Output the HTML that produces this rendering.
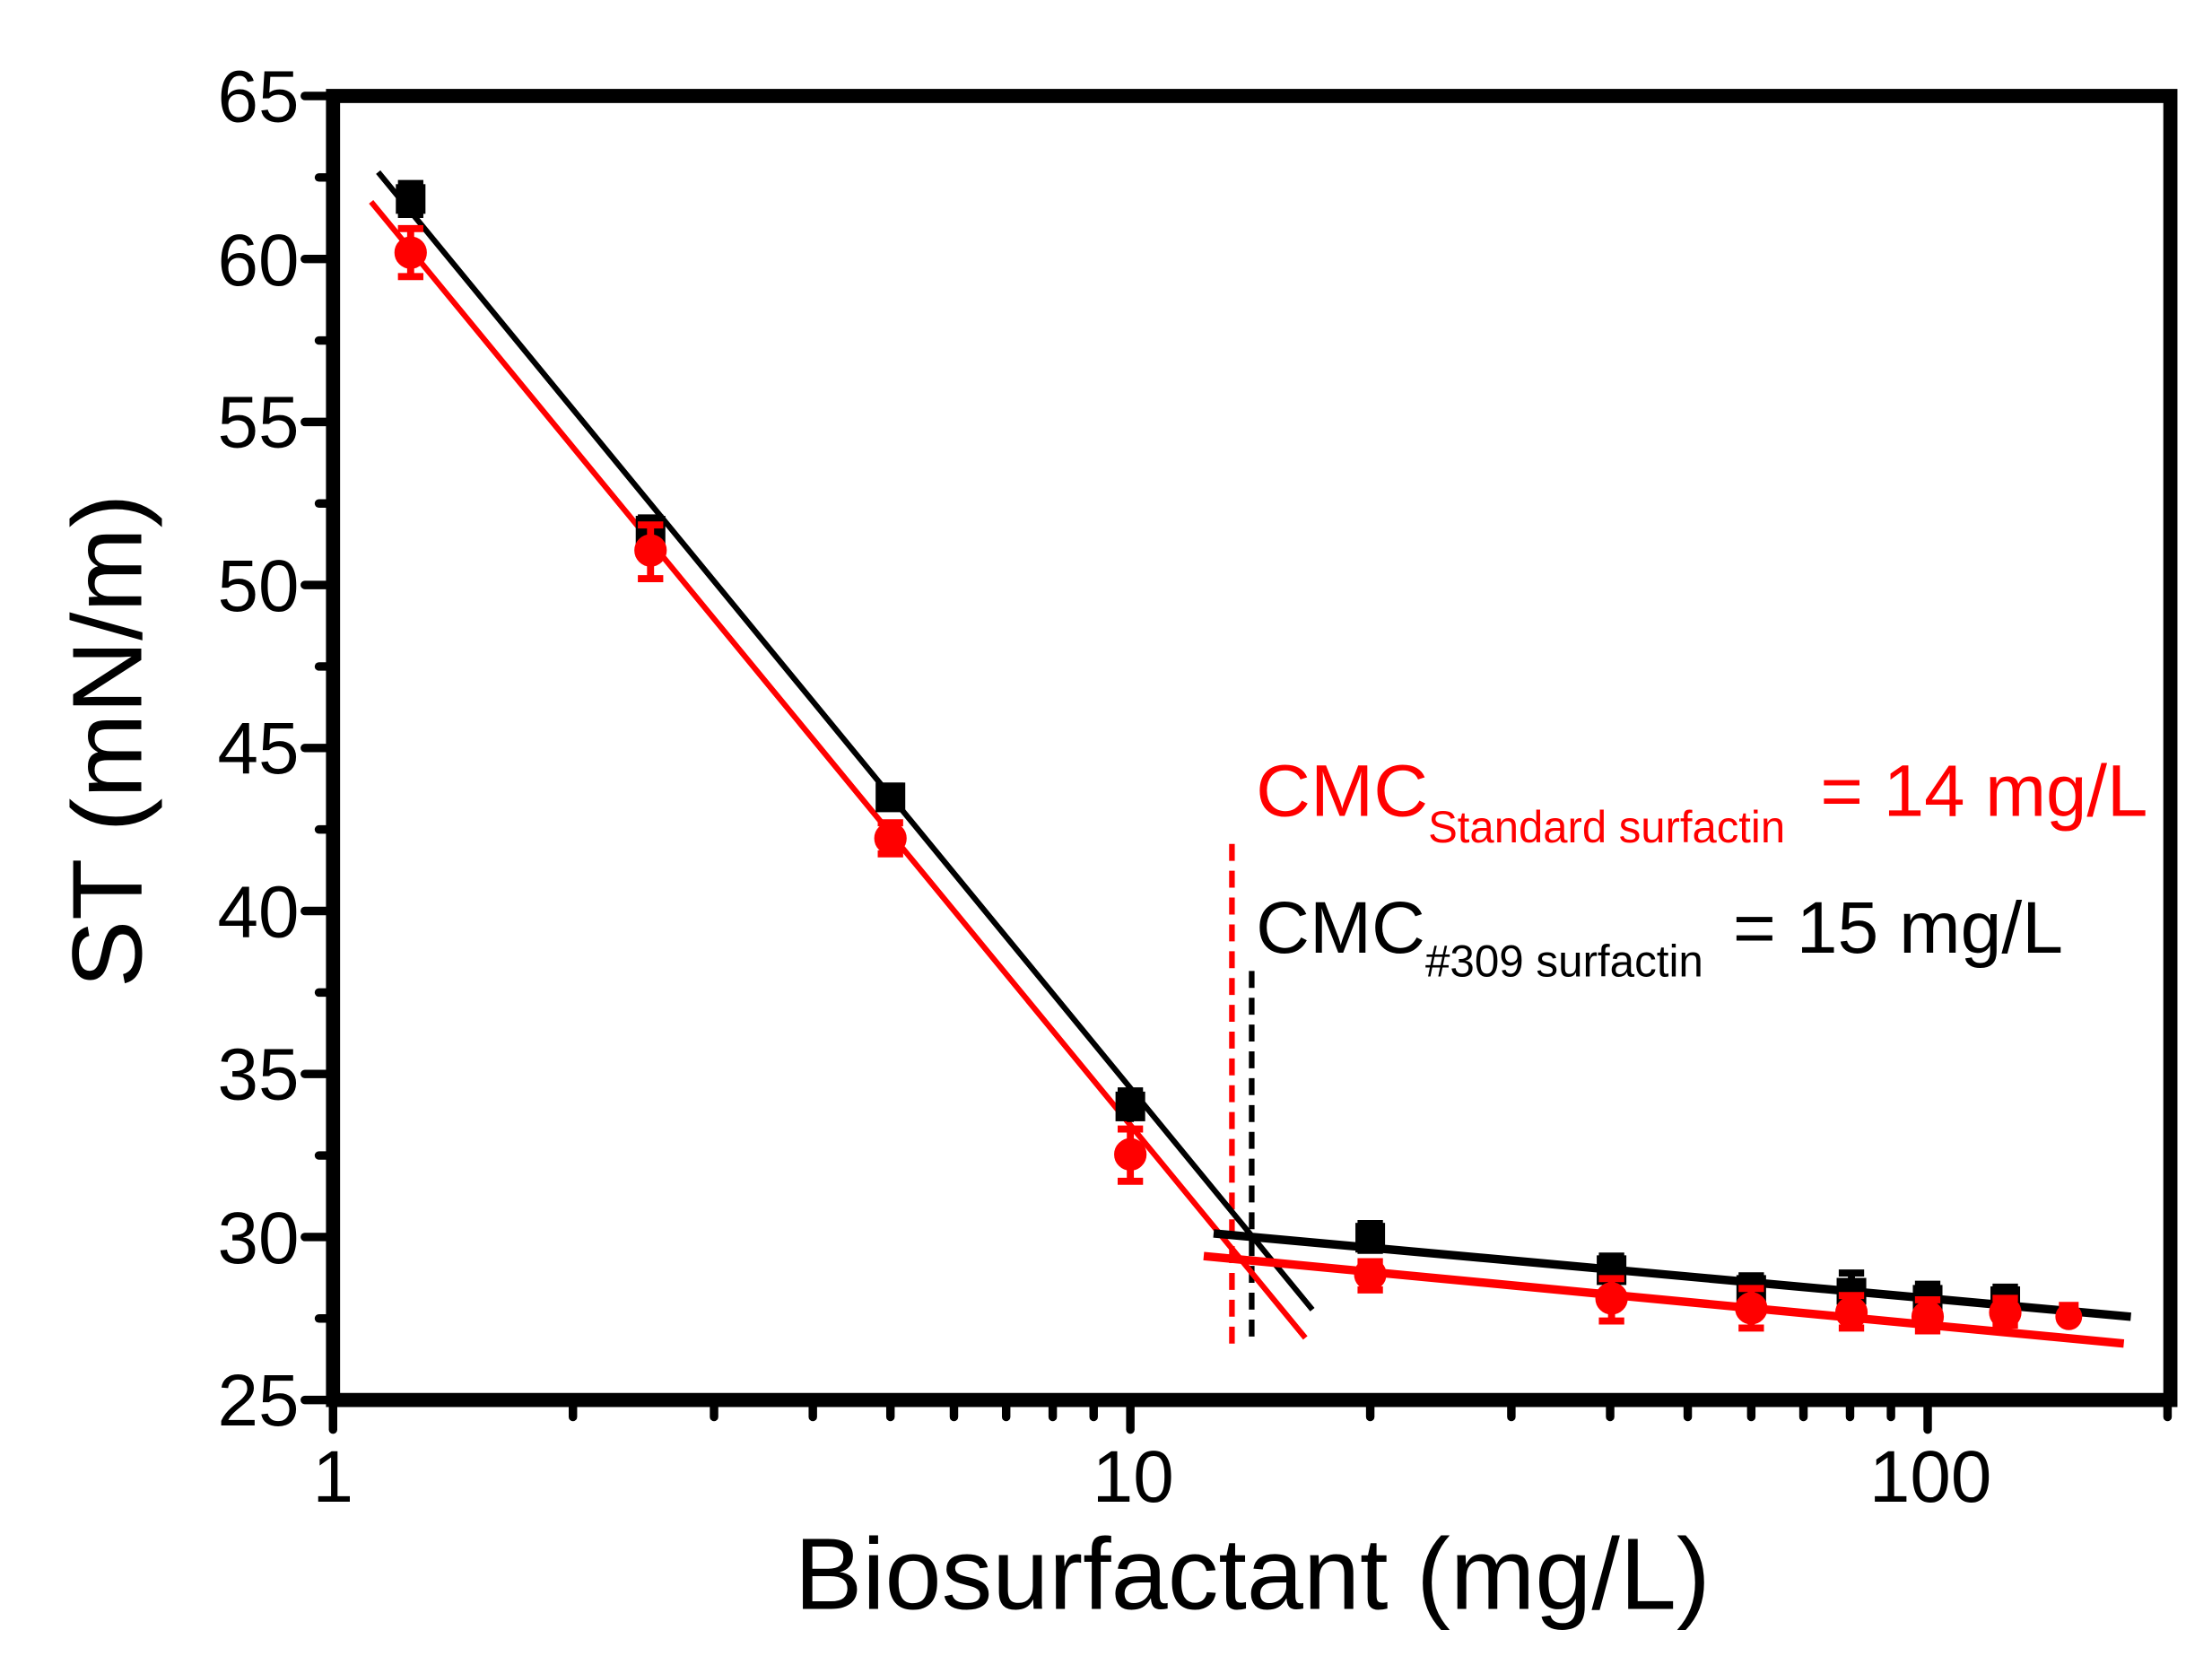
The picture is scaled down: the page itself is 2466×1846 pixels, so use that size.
<!DOCTYPE html>
<html><head><meta charset="utf-8"><style>html,body{margin:0;padding:0;background:#fff}svg{display:block}</style></head>
<body>
<svg width="2466" height="1846" viewBox="0 0 1567.5 1173.4" xmlns="http://www.w3.org/2000/svg" font-family="Liberation Sans, Arial, sans-serif">
<rect width="1567.5" height="1173.4" fill="#fff"/>
<!-- axes -->
<rect x="236" y="68" width="1302" height="924" fill="none" stroke="#000" stroke-width="10"/>
<g stroke="#000" stroke-width="6" stroke-linecap="round">
<line x1="236" y1="68" x2="216" y2="68"/><line x1="236" y1="183.5" x2="216" y2="183.5"/><line x1="236" y1="299" x2="216" y2="299"/><line x1="236" y1="414.5" x2="216" y2="414.5"/><line x1="236" y1="530" x2="216" y2="530"/><line x1="236" y1="645.5" x2="216" y2="645.5"/><line x1="236" y1="761" x2="216" y2="761"/><line x1="236" y1="876.5" x2="216" y2="876.5"/><line x1="236" y1="992" x2="216" y2="992"/>
<line x1="236" y1="125.75" x2="226" y2="125.75"/><line x1="236" y1="241.25" x2="226" y2="241.25"/><line x1="236" y1="356.75" x2="226" y2="356.75"/><line x1="236" y1="472.25" x2="226" y2="472.25"/><line x1="236" y1="587.75" x2="226" y2="587.75"/><line x1="236" y1="703.25" x2="226" y2="703.25"/><line x1="236" y1="818.75" x2="226" y2="818.75"/><line x1="236" y1="934.25" x2="226" y2="934.25"/>
<line x1="236" y1="992" x2="236" y2="1013"/><line x1="801" y1="992" x2="801" y2="1013"/><line x1="1366" y1="992" x2="1366" y2="1013"/>
<line x1="406" y1="992" x2="406" y2="1004"/><line x1="506" y1="992" x2="506" y2="1004"/><line x1="576" y1="992" x2="576" y2="1004"/><line x1="631" y1="992" x2="631" y2="1004"/><line x1="676" y1="992" x2="676" y2="1004"/><line x1="713" y1="992" x2="713" y2="1004"/><line x1="746" y1="992" x2="746" y2="1004"/><line x1="775" y1="992" x2="775" y2="1004"/>
<line x1="971" y1="992" x2="971" y2="1004"/><line x1="1071" y1="992" x2="1071" y2="1004"/><line x1="1141" y1="992" x2="1141" y2="1004"/><line x1="1196" y1="992" x2="1196" y2="1004"/><line x1="1241" y1="992" x2="1241" y2="1004"/><line x1="1278" y1="992" x2="1278" y2="1004"/><line x1="1311" y1="992" x2="1311" y2="1004"/><line x1="1340" y1="992" x2="1340" y2="1004"/>
<line x1="1536" y1="992" x2="1536" y2="1004"/>
</g>
<g font-size="52" fill="#000" text-anchor="end">
<text x="212" y="86">65</text><text x="212" y="202">60</text><text x="212" y="317">55</text><text x="212" y="433">50</text><text x="212" y="548">45</text><text x="212" y="664">40</text><text x="212" y="779">35</text><text x="212" y="895">30</text><text x="212" y="1010">25</text>
</g>
<g font-size="52" fill="#000" text-anchor="middle">
<text x="236" y="1064">1</text><text x="803" y="1064">10</text><text x="1368" y="1064">100</text>
</g>
<text x="563" y="1140" font-size="72" textLength="649" lengthAdjust="spacingAndGlyphs">Biosurfactant (mg/L)</text>
<text transform="translate(100,700) rotate(-90)" font-size="70" textLength="350" lengthAdjust="spacingAndGlyphs">ST (mN/m)</text>
<line x1="873" y1="598" x2="873" y2="955" stroke="#f00" stroke-width="4" stroke-dasharray="12,7"/>
<line x1="887" y1="688" x2="887" y2="950" stroke="#000" stroke-width="4" stroke-dasharray="12,7"/>
<g stroke-width="4" fill="none">
<line x1="268" y1="122" x2="930" y2="928" stroke="#000"/>
<line x1="263" y1="143" x2="925" y2="948" stroke="#f00"/>
<line x1="860" y1="874" x2="1510" y2="933" stroke="#000" stroke-width="6"/>
<line x1="853" y1="890" x2="1505" y2="952" stroke="#f00" stroke-width="6"/>
</g>
<g fill="#000" stroke="#000" stroke-width="5">
<line x1="291" y1="130" x2="291" y2="152"/><line x1="282" y1="130" x2="300" y2="130"/><line x1="282" y1="152" x2="300" y2="152"/><rect x="283" y="133" width="16" height="16"/>
<line x1="461" y1="366" x2="461" y2="384"/><line x1="452" y1="367" x2="470" y2="367"/><rect x="453" y="368" width="16" height="16"/>
<line x1="631" y1="557" x2="631" y2="573"/><line x1="622" y1="557" x2="640" y2="557"/><rect x="623" y="557" width="16" height="16"/>
<line x1="801" y1="772" x2="801" y2="795"/><line x1="792" y1="773" x2="810" y2="773"/><rect x="793" y="776" width="16" height="16"/>
<line x1="971" y1="866" x2="971" y2="888"/><line x1="962" y1="867" x2="980" y2="867"/><line x1="962" y1="886" x2="980" y2="886"/><rect x="963" y="869" width="16" height="16"/>
<line x1="1142" y1="888" x2="1142" y2="910"/><line x1="1133" y1="890" x2="1151" y2="890"/><rect x="1134" y="892" width="16" height="16"/>
<line x1="1241" y1="902" x2="1241" y2="922"/><line x1="1232" y1="904" x2="1250" y2="904"/><rect x="1233" y="906" width="16" height="14"/>
<line x1="1312" y1="900" x2="1312" y2="922"/><line x1="1303" y1="902" x2="1321" y2="902"/><rect x="1304" y="908" width="16" height="14"/>
<line x1="1366" y1="908" x2="1366" y2="926"/><line x1="1357" y1="910" x2="1375" y2="910"/><rect x="1358" y="913" width="16" height="14"/>
<line x1="1421" y1="910" x2="1421" y2="928"/><line x1="1412" y1="912" x2="1430" y2="912"/><rect x="1413" y="914" width="16" height="14"/>
</g>
<g fill="#f00" stroke="#f00" stroke-width="5">
<line x1="291" y1="162" x2="291" y2="196"/><line x1="282" y1="162" x2="300" y2="162"/><line x1="282" y1="196" x2="300" y2="196"/><circle cx="291" cy="179" r="9"/>
<line x1="461" y1="372" x2="461" y2="410"/><line x1="452" y1="372" x2="470" y2="372"/><line x1="452" y1="410" x2="470" y2="410"/><circle cx="461" cy="390" r="9"/>
<line x1="631" y1="583" x2="631" y2="605"/><line x1="622" y1="583" x2="640" y2="583"/><line x1="622" y1="605" x2="640" y2="605"/><circle cx="631" cy="594" r="9"/>
<line x1="801" y1="800" x2="801" y2="837"/><line x1="792" y1="800" x2="810" y2="800"/><line x1="792" y1="837" x2="810" y2="837"/><circle cx="801" cy="818" r="9"/>
<line x1="971" y1="893" x2="971" y2="915"/><line x1="962" y1="894" x2="980" y2="894"/><line x1="962" y1="914" x2="980" y2="914"/><circle cx="971" cy="903" r="9"/>
<line x1="1142" y1="905" x2="1142" y2="937"/><line x1="1133" y1="906" x2="1151" y2="906"/><line x1="1133" y1="936" x2="1151" y2="936"/><circle cx="1142" cy="920" r="9"/>
<line x1="1241" y1="912" x2="1241" y2="942"/><line x1="1232" y1="913" x2="1250" y2="913"/><line x1="1232" y1="941" x2="1250" y2="941"/><circle cx="1241" cy="927" r="9"/>
<line x1="1312" y1="917" x2="1312" y2="942"/><line x1="1303" y1="918" x2="1321" y2="918"/><line x1="1303" y1="941" x2="1321" y2="941"/><circle cx="1312" cy="930" r="9"/>
<line x1="1366" y1="920" x2="1366" y2="944"/><line x1="1357" y1="921" x2="1375" y2="921"/><line x1="1357" y1="943" x2="1375" y2="943"/><circle cx="1366" cy="933" r="9"/>
<line x1="1421" y1="918" x2="1421" y2="940"/><line x1="1412" y1="920" x2="1430" y2="920"/><line x1="1412" y1="939" x2="1430" y2="939"/><circle cx="1421" cy="930" r="9"/>
<line x1="1466" y1="924" x2="1466" y2="942"/><line x1="1459" y1="925" x2="1473" y2="925"/><circle cx="1466" cy="933" r="7"/>
</g>
<g fill="#f00">
<text x="890" y="578" font-size="52" textLength="122" lengthAdjust="spacingAndGlyphs">CMC</text>
<text x="1012" y="597" font-size="32" textLength="253" lengthAdjust="spacingAndGlyphs">Standard surfactin</text>
<text x="1290" y="578" font-size="52" textLength="232" lengthAdjust="spacingAndGlyphs">= 14 mg/L</text>
</g>
<g fill="#000">
<text x="890" y="675" font-size="52" textLength="120" lengthAdjust="spacingAndGlyphs">CMC</text>
<text x="1010" y="692" font-size="32" textLength="197" lengthAdjust="spacingAndGlyphs">#309 surfactin</text>
<text x="1228" y="675" font-size="52" textLength="234" lengthAdjust="spacingAndGlyphs">= 15 mg/L</text>
</g>
</svg>
</body></html>
